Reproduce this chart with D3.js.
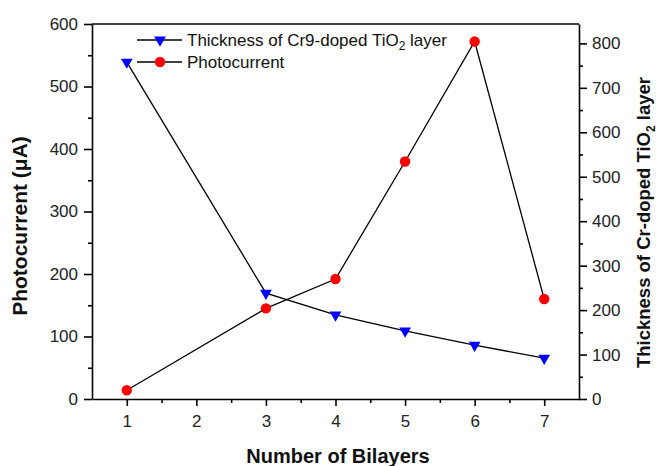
<!DOCTYPE html>
<html>
<head>
<meta charset="utf-8">
<script src="https://cdn.jsdelivr.net/npm/d3@7"></script>
<style>
  html, body { margin: 0; padding: 0; background: #fff; }
  svg { display: block; font-family: "Liberation Sans", Arial, sans-serif; }
</style>
</head>
<body>
<svg id="chart" width="659" height="466"></svg>
<script>
// Number of bilayers deposited
const bilayers = [1, 3, 4, 5, 6, 7];
// Photocurrent in µA (left axis)
const photocurrent = [14, 145, 192, 380, 572, 160];
// Thickness of the Cr-doped TiO2 layer (right axis)
const thickness = [758, 238, 189, 153, 121, 92];

const xTicks = [1, 2, 3, 4, 5, 6, 7];
const leftTicks = [0, 100, 200, 300, 400, 500, 600];
const rightTicks = [0, 100, 200, 300, 400, 500, 600, 700, 800];

const svg = d3.select("#chart");
const m = { left: 92, right: 579, top: 24, bottom: 399 };

const x = d3.scaleLinear().domain([0.5, 7.5]).range([m.left, m.right]);
const yL = d3.scaleLinear().domain([0, 600]).range([m.bottom, m.top]);
const yR = d3.scaleLinear().domain([0, 843.6]).range([m.bottom, m.top]);

const axisW = 1.6;
const tickFont = 17;

// frame top line
svg.append("line")
  .attr("x1", m.left).attr("x2", m.right)
  .attr("y1", m.top).attr("y2", m.top)
  .attr("stroke", "#000").attr("stroke-width", axisW);

function styleAxis(g) {
  g.select(".domain").attr("stroke-width", axisW);
  g.selectAll(".tick line").attr("stroke-width", axisW);
  g.selectAll(".tick text").attr("font-size", tickFont).attr("fill", "#222")
    .attr("font-family", "'Liberation Sans', Arial, sans-serif");
}

// bottom axis: major + minor ticks
const gx = svg.append("g").attr("transform", `translate(0,${m.bottom})`)
  .call(d3.axisBottom(x).tickValues(xTicks).tickSize(7).tickSizeOuter(0).tickPadding(9).tickFormat(d3.format("d")));
styleAxis(gx);
svg.append("g").attr("transform", `translate(0,${m.bottom})`)
  .call(d3.axisBottom(x).tickValues(d3.range(1.5, 7.5, 1)).tickSize(4).tickFormat(""))
  .call(g => { g.select(".domain").remove(); g.selectAll("line").attr("stroke-width", axisW); });

// left axis
const gl = svg.append("g").attr("transform", `translate(${m.left},0)`)
  .call(d3.axisLeft(yL).tickValues(leftTicks).tickSize(8).tickSizeOuter(0).tickPadding(6));
styleAxis(gl);
svg.append("g").attr("transform", `translate(${m.left},0)`)
  .call(d3.axisLeft(yL).tickValues(d3.range(50, 600, 100)).tickSize(4).tickFormat(""))
  .call(g => { g.select(".domain").remove(); g.selectAll("line").attr("stroke-width", axisW); });

// right axis
const gr = svg.append("g").attr("transform", `translate(${m.right},0)`)
  .call(d3.axisRight(yR).tickValues(rightTicks).tickSize(8).tickSizeOuter(0).tickPadding(5));
styleAxis(gr);
svg.append("g").attr("transform", `translate(${m.right},0)`)
  .call(d3.axisRight(yR).tickValues(d3.range(50, 850, 100)).tickSize(4).tickFormat(""))
  .call(g => { g.select(".domain").remove(); g.selectAll("line").attr("stroke-width", axisW); });

// axis titles
svg.append("text")
  .attr("x", 338).attr("y", 463)
  .attr("text-anchor", "middle").attr("font-size", 20).attr("font-weight", "bold")
  .attr("fill", "#111")
  .text("Number of Bilayers");

svg.append("text")
  .attr("transform", `translate(27,226) rotate(-90)`)
  .attr("text-anchor", "middle").attr("font-size", 21).attr("font-weight", "bold")
  .attr("fill", "#111")
  .text("Photocurrent (μA)");

const rt = svg.append("text")
  .attr("transform", `translate(650,222.5) rotate(-90)`)
  .attr("text-anchor", "middle").attr("font-size", 18.5).attr("font-weight", "bold")
  .attr("fill", "#111");
rt.append("tspan").text("Thickness of Cr-doped TiO");
rt.append("tspan").attr("font-size", 12).attr("dy", 5).text("2");
rt.append("tspan").attr("dy", -5).text(" layer");

// series lines
const pts = bilayers.map((b, i) => ({ b, p: photocurrent[i], t: thickness[i] }));

svg.append("path").datum(pts)
  .attr("fill", "none").attr("stroke", "#000").attr("stroke-width", 1.3)
  .attr("d", d3.line().x(d => x(d.b)).y(d => yR(d.t)));
svg.append("path").datum(pts)
  .attr("fill", "none").attr("stroke", "#000").attr("stroke-width", 1.3)
  .attr("d", d3.line().x(d => x(d.b)).y(d => yL(d.p)));

const triSym = d3.symbol().type(d3.symbolTriangle).size(60);

svg.append("g").selectAll("path").data(pts).join("path")
  .attr("transform", d => `translate(${x(d.b)},${yR(d.t)}) rotate(180)`)
  .attr("d", triSym).attr("fill", "#0000ff");

svg.append("g").selectAll("circle").data(pts).join("circle")
  .attr("cx", d => x(d.b)).attr("cy", d => yL(d.p)).attr("r", 5.2)
  .attr("fill", "#ff0000");

// legend
const legend = svg.append("g");
const rows = [
  { label: "Thickness of Cr9-doped TiO", sub: "2", tail: " layer", kind: "tri", y: 40 },
  { label: "Photocurrent", kind: "dot", y: 62 }
];
rows.forEach(r => {
  legend.append("line").attr("x1", 137).attr("x2", 182).attr("y1", r.y).attr("y2", r.y)
    .attr("stroke", "#000").attr("stroke-width", 1.3);
  if (r.kind === "tri") {
    legend.append("path").attr("transform", `translate(160,${r.y}) rotate(180)`)
      .attr("d", triSym).attr("fill", "#0000ff");
  } else {
    legend.append("circle").attr("cx", 160).attr("cy", r.y).attr("r", 5.2).attr("fill", "#ff0000");
  }
  const t = legend.append("text").attr("x", 187).attr("y", r.y + 6)
    .attr("font-size", 17).attr("fill", "#111");
  t.append("tspan").text(r.label);
  if (r.sub) {
    t.append("tspan").attr("font-size", 12).attr("dy", 4).text(r.sub);
    t.append("tspan").attr("dy", -4).text(r.tail);
  }
});
</script>
</body>
</html>
